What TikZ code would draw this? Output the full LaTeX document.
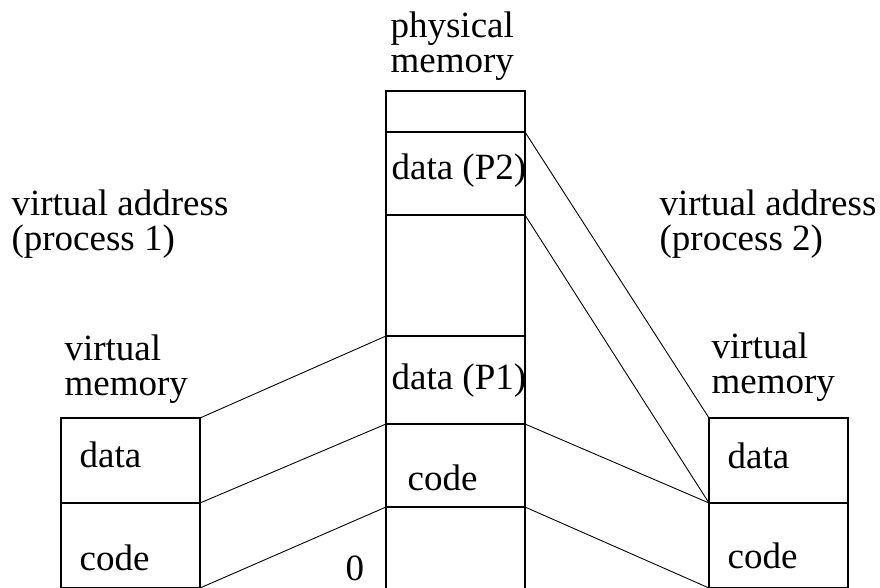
\documentclass[tikz,border=0pt]{standalone}
\usepackage{fontspec}
\setmainfont{Liberation Serif}
\usetikzlibrary{chains,positioning}

\begin{document}
\begin{tikzpicture}[x=1pt,y=-1pt,line width=1.2pt]
\tikzstyle{memcell}=[draw,minimum width=139pt,inner sep=0pt,outer sep=0pt]
\tikzstyle{lbl}=[inner sep=0pt,align=left,anchor=base west,font=\fontsize{37}{35}\selectfont]
\tikzstyle{maplink}=[line width=0.9pt]

\useasboundingbox (0,0) rectangle (880,587);
\clip (0,0) rectangle (880,587);

% physical memory
\begin{scope}[start chain=1 going below,node distance=0pt]
    \node [on chain=1,memcell,minimum height=41pt,anchor=north west] (f0) at (386,91) {};
    \node [on chain=1,memcell,minimum height=83pt] (f1) {};
    \node [on chain=1,memcell,minimum height=121pt] (f2) {};
    \node [on chain=1,memcell,minimum height=88pt] (f3) {};
    \node [on chain=1,memcell,minimum height=83pt] (f4) {};
    \node [on chain=1,memcell,minimum height=83pt] (f5) {};
\end{scope}

% virtual memory, process 1
\begin{scope}[start chain=2 going below,node distance=0pt]
    \node [on chain=2,memcell,minimum height=85pt,anchor=north west] (va0) at (61,418) {};
    \node [on chain=2,memcell,minimum height=85pt] (va1) {};
\end{scope}

% virtual memory, process 2
\begin{scope}[start chain=3 going below,node distance=0pt]
    \node [on chain=3,memcell,minimum height=85pt,anchor=north west] (vb0) at (709,418) {};
    \node [on chain=3,memcell,minimum height=85pt] (vb1) {};
\end{scope}

% labels (base = last line)
\node [lbl] (physlbl) at (390,72) {physical\\memory};
\node [lbl] (addra) at (11,250) {virtual address\\(process 1)};
\node [lbl] (addrb) at (659,250) {virtual address\\(process 2)};
\node [lbl] (vmema) at (64,395) {virtual\\memory};
\node [lbl] (vmemb) at (711,393) {virtual\\memory};

\node [lbl] (fdata2) at (391,179) {data (P2)};
\node [lbl] (fdata1) at (391,389) {data (P1)};
\node [lbl] (fcode) at (407,490) {code};
\node [lbl] (vadata) at (79,467) {data};
\node [lbl] (vacode) at (79,570) {code};
\node [lbl] (vbdata) at (727,468) {data};
\node [lbl] (vbcode) at (727,568) {code};
\node [lbl] (zero) at (345,580) {0};

\draw[maplink] (va0.north east) -- (f3.north west);
\draw[maplink] (va0.south east) -- (f4.north west);
\draw[maplink] (va1.south east) -- (f4.south west);
\draw[maplink] (f1.north east) -- (vb0.north west);
\draw[maplink] (f1.south east) -- (vb0.south west);
\draw[maplink] (f3.south east) -- (vb0.south west);
\draw[maplink] (f4.south east) -- (vb1.south west);
\end{tikzpicture}
\end{document}
